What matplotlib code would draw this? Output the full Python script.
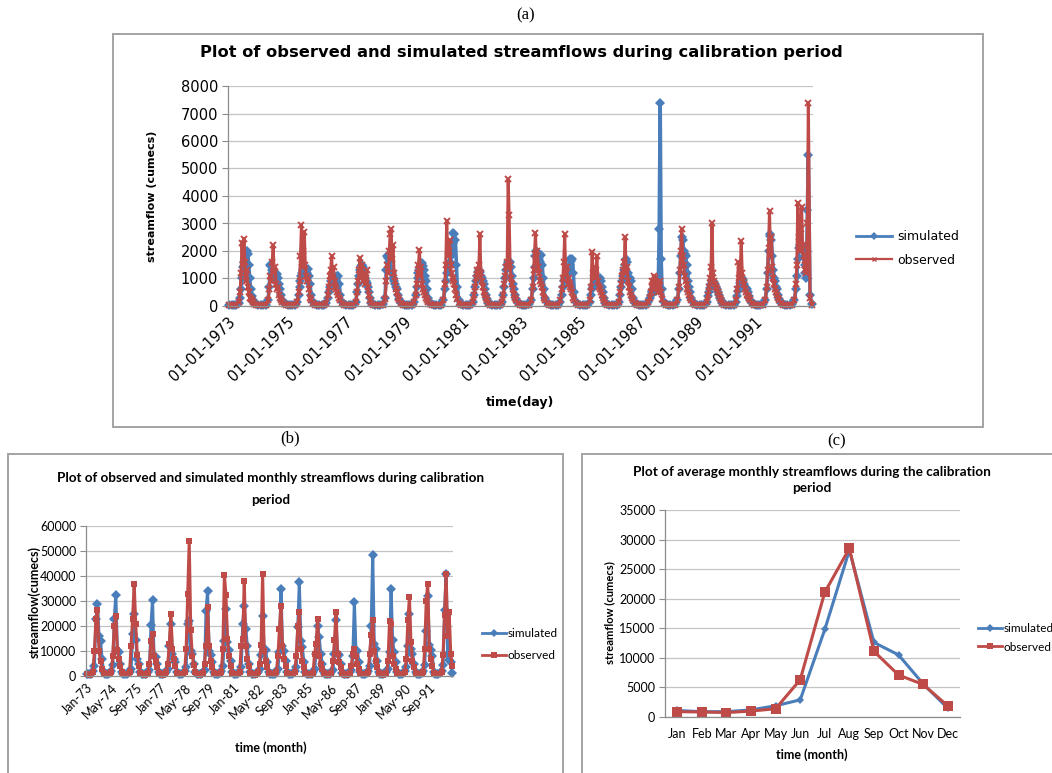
import numpy as np
import pandas as pd
import matplotlib
matplotlib.use('Agg')
import matplotlib.pyplot as plt
from matplotlib.lines import Line2D
from matplotlib.patches import Rectangle

W, H = 1052, 773
BLUE = '#4a7ebb'
RED = '#be4b48'
GRID = '#c4c4c4'
AXIS = '#8c8c8c'

# ---------------- (a) daily streamflow, sampled on these days of each year
sample_days = [15, 46, 74, 105, 135, 152, 164, 176, 188, 200, 212, 224, 236, 248,
               260, 272, 284, 296, 308, 329, 354]
years = list(range(1973, 1993))

daily_sim = [
    [40, 30, 30, 40, 120, 300, 600, 1000, 1400, 1600, 1800, 1950, 2000, 1900, 1500, 1000, 600, 350, 200, 100, 60],
    [40, 30, 30, 50, 200, 700, 1500, 1450, 1300, 1200, 1100, 1000, 1100, 1150, 1000, 800, 600, 400, 200, 100, 60],
    [40, 30, 30, 50, 150, 400, 700, 900, 1100, 1200, 1300, 1350, 1300, 1250, 1200, 1350, 1100, 800, 400, 150, 60],
    [40, 30, 30, 40, 120, 300, 500, 700, 900, 1000, 950, 900, 1000, 1050, 1000, 1100, 1100, 800, 400, 150, 60],
    [40, 30, 30, 50, 150, 500, 800, 1100, 1300, 1450, 1500, 1400, 1200, 1000, 900, 850, 700, 500, 300, 120, 60],
    [40, 30, 40, 60, 300, 1300, 1800, 1750, 1600, 1400, 1300, 1200, 1000, 900, 800, 700, 600, 400, 250, 120, 60],
    [40, 30, 30, 50, 150, 400, 700, 1000, 1200, 1300, 1400, 1500, 1550, 1450, 1300, 1100, 900, 600, 300, 120, 60],
    [40, 30, 30, 50, 200, 600, 900, 1200, 1400, 1500, 1600, 1800, 2000, 2300, 2650, 2600, 2400, 1500, 700, 200, 80],
    [40, 30, 30, 50, 150, 400, 700, 900, 1100, 1250, 1300, 1250, 1100, 1000, 900, 800, 600, 400, 250, 120, 60],
    [40, 30, 30, 50, 150, 400, 700, 1000, 1300, 1500, 1600, 1550, 1600, 1400, 1100, 800, 600, 400, 250, 120, 60],
    [40, 30, 30, 60, 200, 600, 1000, 1400, 1800, 2000, 1950, 1900, 1800, 1600, 1850, 1500, 1000, 600, 300, 150, 60],
    [40, 30, 30, 50, 150, 400, 700, 900, 1000, 1100, 1200, 1300, 1400, 1500, 1700, 1650, 1700, 1200, 500, 150, 60],
    [40, 30, 30, 50, 150, 400, 600, 700, 800, 850, 900, 950, 900, 950, 1000, 900, 700, 500, 300, 120, 60],
    [40, 30, 30, 50, 150, 400, 700, 900, 1100, 1300, 1500, 1700, 1600, 1200, 1000, 1000, 900, 600, 300, 120, 60],
    [40, 30, 30, 50, 150, 300, 400, 500, 550, 600, 650, 600, 550, 600, 700, 2800, 7400, 1700, 600, 150, 60],
    [40, 30, 30, 60, 200, 600, 1200, 1800, 2500, 2400, 2000, 1900, 1800, 1500, 1200, 900, 700, 500, 300, 150, 60],
    [40, 30, 30, 50, 150, 350, 500, 650, 800, 900, 900, 850, 800, 700, 600, 500, 400, 300, 200, 100, 60],
    [40, 30, 30, 50, 150, 350, 550, 700, 850, 950, 1000, 950, 800, 700, 650, 600, 500, 350, 200, 100, 60],
    [40, 30, 30, 60, 200, 600, 1200, 2000, 2600, 2550, 2400, 1800, 1300, 1000, 900, 700, 600, 400, 250, 120, 60],
    [40, 30, 30, 60, 200, 600, 1100, 1700, 2100, 2200, 2150, 2200, 2000, 1800, 1500, 1200, 1000, 3500, 5500, 400, 60],
]

daily_obs = [
    [30, 25, 20, 40, 150, 500, 1200, 2300, 1500, 2450, 1600, 900, 1300, 700, 500, 300, 250, 200, 150, 80, 50],
    [30, 25, 20, 40, 200, 600, 1100, 900, 1600, 2200, 1200, 1400, 800, 600, 700, 400, 300, 200, 150, 80, 50],
    [30, 25, 20, 40, 150, 500, 900, 1800, 2950, 1400, 2000, 2700, 1500, 1100, 900, 1000, 600, 300, 200, 100, 50],
    [30, 25, 20, 40, 120, 400, 700, 1100, 1300, 1800, 1000, 1400, 900, 700, 600, 500, 400, 300, 200, 100, 50],
    [30, 25, 20, 40, 150, 500, 900, 1300, 1750, 1100, 1500, 900, 1200, 800, 1000, 1300, 700, 400, 200, 100, 50],
    [30, 25, 20, 50, 250, 900, 1500, 1200, 2000, 2600, 2800, 1700, 2200, 1200, 900, 600, 500, 300, 200, 100, 50],
    [30, 25, 20, 40, 150, 400, 800, 1200, 1500, 2050, 1100, 1400, 800, 600, 500, 400, 300, 200, 150, 80, 50],
    [30, 25, 20, 40, 200, 800, 1500, 3100, 1800, 2000, 2400, 1500, 1200, 900, 1000, 800, 600, 400, 250, 100, 50],
    [30, 25, 20, 40, 150, 400, 700, 1000, 1300, 1100, 1500, 2600, 1200, 900, 700, 500, 400, 300, 200, 100, 50],
    [30, 25, 20, 40, 150, 400, 800, 1100, 1400, 1600, 4600, 3300, 1500, 1000, 800, 600, 400, 300, 200, 100, 50],
    [30, 25, 20, 50, 200, 700, 1300, 1900, 2650, 1600, 2000, 1400, 1200, 900, 800, 700, 500, 300, 200, 100, 50],
    [30, 25, 20, 40, 200, 600, 1000, 1600, 2600, 1200, 1400, 800, 1000, 700, 800, 600, 500, 300, 200, 100, 50],
    [30, 25, 20, 40, 200, 700, 1950, 1200, 1400, 1000, 1300, 1800, 900, 700, 600, 500, 400, 300, 200, 100, 50],
    [30, 25, 20, 40, 150, 500, 800, 1100, 1300, 1600, 2500, 1200, 1400, 900, 700, 500, 400, 300, 200, 100, 50],
    [30, 25, 20, 40, 150, 300, 500, 700, 900, 800, 1100, 1000, 700, 600, 500, 800, 900, 500, 250, 100, 50],
    [30, 25, 20, 50, 200, 700, 1300, 2000, 2800, 1800, 1500, 1100, 900, 800, 600, 500, 400, 300, 200, 100, 50],
    [30, 25, 20, 40, 150, 400, 700, 1000, 1400, 3000, 1200, 900, 800, 700, 600, 500, 400, 300, 200, 100, 50],
    [30, 25, 20, 40, 200, 600, 1600, 1000, 1300, 2350, 1200, 900, 800, 600, 500, 400, 350, 300, 200, 100, 50],
    [30, 25, 20, 50, 200, 700, 1300, 2100, 3450, 1800, 2500, 1400, 1000, 800, 600, 500, 400, 300, 200, 100, 50],
    [30, 25, 20, 50, 200, 800, 1500, 3750, 2500, 2000, 2800, 3600, 2200, 1800, 1500, 1300, 1200, 3000, 7400, 300, 50],
]

daily_ticks = ['01-01-1973', '01-01-1975', '01-01-1977', '01-01-1979', '01-01-1981',
               '01-01-1983', '01-01-1985', '01-01-1987', '01-01-1989', '01-01-1991']

# ---------------- (b) monthly streamflow, Jan..Dec for each year
monthly_sim = [
    [1000, 800, 800, 1000, 2000, 4000, 23000, 29000, 16000, 14000, 7000, 1500],
    [1000, 900, 800, 1100, 2000, 4500, 23000, 32500, 10500, 9500, 5000, 1500],
    [1000, 900, 900, 1200, 1800, 3000, 17000, 25000, 14500, 7000, 5000, 1500],
    [900, 800, 800, 1000, 1500, 2500, 20500, 30500, 8000, 7500, 5000, 1500],
    [1000, 900, 900, 1100, 1800, 3000, 12000, 21000, 9000, 7000, 5500, 1500],
    [1000, 900, 800, 1100, 2000, 3500, 21000, 22000, 10000, 9000, 5000, 1500],
    [900, 800, 800, 1000, 1500, 2500, 26000, 34000, 10000, 8500, 5500, 1500],
    [1000, 900, 900, 1200, 2000, 4000, 14000, 27000, 13500, 10500, 6000, 1600],
    [1000, 900, 900, 1200, 1800, 3500, 21000, 28000, 19000, 12000, 5000, 1500],
    [1000, 900, 800, 1100, 1800, 3000, 8500, 24000, 11000, 10500, 5500, 1500],
    [900, 800, 800, 1000, 1600, 3000, 9500, 35000, 12000, 10000, 6000, 1600],
    [1000, 900, 900, 1200, 2000, 3500, 19500, 37500, 14000, 11500, 5500, 1500],
    [900, 800, 800, 1000, 1500, 3000, 9000, 20000, 15500, 9000, 5000, 1500],
    [900, 800, 800, 1000, 1500, 2500, 9000, 22500, 9000, 8500, 5000, 1400],
    [900, 800, 800, 1000, 1500, 2500, 8000, 29500, 10500, 10000, 5500, 1500],
    [1000, 900, 900, 1200, 2000, 4000, 20000, 48500, 13000, 11000, 6000, 1600],
    [1000, 900, 900, 1100, 1800, 3000, 9500, 35000, 14500, 9500, 5500, 1500],
    [1000, 900, 900, 1200, 2000, 3500, 12000, 25000, 11000, 9000, 5000, 1500],
    [1000, 900, 900, 1200, 2000, 4500, 18000, 32000, 12500, 10500, 8000, 1800],
    [1000, 900, 900, 1200, 2000, 4500, 26500, 41000, 9000, 6500, 5500, 1200],
]

monthly_obs = [
    [800, 700, 600, 800, 1500, 10000, 23000, 26500, 10000, 6000, 3000, 1200],
    [900, 700, 700, 900, 1500, 8000, 20000, 24000, 10500, 7000, 4000, 1500],
    [800, 700, 700, 900, 1500, 12000, 23000, 37000, 21000, 8500, 4000, 1300],
    [800, 700, 600, 800, 1300, 5000, 14000, 17000, 8000, 6000, 3500, 1200],
    [800, 700, 600, 800, 1500, 5000, 13000, 25000, 11000, 7000, 4000, 1300],
    [900, 700, 700, 900, 1500, 11000, 33000, 54000, 18500, 8000, 4500, 1500],
    [800, 700, 600, 800, 1300, 5000, 12000, 27500, 12000, 6000, 3500, 1200],
    [900, 700, 700, 900, 1500, 11000, 40500, 32500, 15000, 8000, 4000, 1400],
    [800, 700, 700, 900, 1500, 12000, 15000, 38000, 12000, 7000, 4000, 1300],
    [800, 700, 600, 800, 1500, 5000, 12500, 41000, 10000, 6000, 3500, 1200],
    [800, 700, 700, 900, 1500, 8000, 19000, 28000, 12000, 7000, 4000, 1300],
    [800, 700, 700, 900, 1500, 8000, 20000, 25500, 11000, 6000, 3500, 1200],
    [800, 700, 600, 800, 1300, 9000, 13000, 23000, 8000, 5000, 3000, 1100],
    [800, 700, 600, 800, 1300, 6000, 14500, 25500, 9000, 5500, 3500, 1200],
    [700, 600, 600, 700, 1200, 4000, 9000, 11000, 8000, 5000, 3000, 1000],
    [800, 700, 700, 900, 1500, 9000, 16500, 22500, 10000, 6000, 3500, 1200],
    [800, 700, 600, 800, 1300, 6000, 22000, 21000, 8000, 5000, 3000, 1100],
    [800, 700, 700, 900, 1500, 7000, 22500, 31500, 13500, 6000, 3500, 1200],
    [900, 700, 700, 900, 1600, 11000, 30000, 37000, 11000, 7000, 4000, 1300],
    [900, 800, 700, 900, 1500, 8500, 24500, 41000, 16000, 25500, 9000, 4000],
]

monthly_ticks = ['Jan-73', 'May-74', 'Sep-75', 'Jan-77', 'May-78', 'Sep-79', 'Jan-81',
                 'May-82', 'Sep-83', 'Jan-85', 'May-86', 'Sep-87', 'Jan-89', 'May-90', 'Sep-91']

# ---------------- (c) average monthly streamflow
months = ['Jan', 'Feb', 'Mar', 'Apr', 'May', 'Jun', 'Jul', 'Aug', 'Sep', 'Oct', 'Nov', 'Dec']
avg_sim = [1100, 900, 900, 1200, 1900, 2900, 14800, 28200, 12600, 10500, 5600, 1500]
avg_obs = [900, 850, 750, 1000, 1400, 6300, 21100, 28500, 11100, 7100, 5500, 1900]


def fx(x):
    return x / W


def fy(y):
    return 1 - y / H


def add_axes_px(left, top, right, bottom):
    return fig.add_axes([fx(left), fy(bottom), (right - left) / W, (bottom - top) / H])


def excel_style(ax, ymax, ystep, size, family):
    ax.set_ylim(0, ymax)
    ax.set_yticks(np.arange(0, ymax + 1, ystep))
    ax.grid(axis='y', color=GRID, lw=0.9)
    ax.set_axisbelow(True)
    for s in ['top', 'right']:
        ax.spines[s].set_visible(False)
    for s in ['left', 'bottom']:
        ax.spines[s].set_color(AXIS)
        ax.spines[s].set_linewidth(0.9)
    ax.tick_params(axis='y', length=4, color=AXIS, labelsize=size, pad=3)
    ax.tick_params(axis='x', length=0, labelsize=size)
    for lab in ax.get_yticklabels() + ax.get_xticklabels():
        lab.set_family(family)


fig = plt.figure(figsize=(W / 100, H / 100), dpi=100)

# panel frames
for (l, t, r, b) in [(113, 34, 983, 427), (8, 454, 563, 790), (582, 454, 1070, 790)]:
    fig.add_artist(Rectangle((fx(l), fy(b)), (r - l) / W, (b - t) / H, transform=fig.transFigure,
                             fill=False, ec='#a3a3a3', lw=1.4))

serif = ['Liberation Serif', 'DejaVu Serif']
fig.text(fx(526), fy(15), '(a)', family=serif, fontsize=12, ha='center', va='center')
fig.text(fx(290), fy(438), '(b)', family=serif, fontsize=12, ha='center', va='center')
fig.text(fx(837), fy(441), '(c)', family=serif, fontsize=12, ha='center', va='center')

# ---------------- (a)
sans = ['DejaVu Sans']
ax = add_axes_px(228, 86, 813, 306)
dates = [pd.Timestamp(y, 1, 1) + pd.Timedelta(days=d - 1) for y in years for d in sample_days]
sim_flat = [v for row in daily_sim for v in row]
obs_flat = [v for row in daily_obs for v in row]
ax.plot(dates, sim_flat, color=BLUE, lw=2.6, marker='D', ms=5, mew=0, clip_on=False)
ax.plot(dates, obs_flat, color=RED, lw=2.2, marker='x', ms=4.5, mew=1.4, clip_on=False)
ax.set_xlim(pd.Timestamp(1973, 1, 1), pd.Timestamp(1992, 12, 31))
tick_dates = pd.to_datetime(daily_ticks, format='%d-%m-%Y')
ax.set_xticks(tick_dates)
ax.set_xticklabels(daily_ticks, rotation=44, ha='right', rotation_mode='anchor')
excel_style(ax, 8000, 1000, 10.5, sans)
ax.tick_params(axis='x', labelsize=10.5, pad=6)
fig.text(fx(521), fy(52), 'Plot of observed and simulated streamflows during calibration period',
         fontsize=11.7, weight='bold', ha='center', va='center')
fig.text(fx(152), fy(196), 'streamflow (cumecs)', rotation=90, fontsize=8, weight='bold',
         ha='center', va='center')
fig.text(fx(520), fy(402), 'time(day)', fontsize=9, weight='bold', ha='center', va='center')
handles = [Line2D([], [], color=BLUE, lw=2, marker='D', ms=4, mew=0),
           Line2D([], [], color=RED, lw=1.6, marker='x', ms=3.5, mew=1)]
ax.legend(handles, ['simulated', 'observed'], loc='center left',
          bbox_to_anchor=(fx(856), fy(248.5)), bbox_transform=fig.transFigure,
          frameon=False, fontsize=9, handlelength=2.9, handletextpad=0.4,
          labelspacing=0.8, borderpad=0, borderaxespad=0)

# ---------------- (b)
lato = ['Lato', 'DejaVu Sans']
ax = add_axes_px(86, 526, 453, 676)
msim = [v for row in monthly_sim for v in row]
mobs = [v for row in monthly_obs for v in row]
idx = np.arange(len(msim))
ax.plot(idx, msim, color=BLUE, lw=2.2, marker='D', ms=5, mew=0, clip_on=False)
ax.plot(idx, mobs, color=RED, lw=2.2, marker='s', ms=4.5, mew=0, clip_on=False)
ax.set_xlim(-0.5, len(msim) - 0.5)
ax.set_xticks(np.arange(0, 16 * len(monthly_ticks), 16))
ax.set_xticklabels(monthly_ticks, rotation=45, ha='right', rotation_mode='anchor')
excel_style(ax, 60000, 10000, 9, lato)
ax.tick_params(axis='x', pad=4)
fig.text(fx(271), fy(478), 'Plot of observed and simulated monthly streamflows during calibration',
         family=lato, fontsize=9.7, weight='bold', ha='center', va='center')
fig.text(fx(271), fy(500), 'period', family=lato, fontsize=9.7, weight='bold', ha='center', va='center')
fig.text(fx(34), fy(602), 'streamflow(cumecs)', family=lato, rotation=90, fontsize=9,
         weight='bold', ha='center', va='center')
fig.text(fx(271), fy(748), 'time (month)', family=lato, fontsize=9, weight='bold',
         ha='center', va='center')
handles = [Line2D([], [], color=BLUE, lw=2, marker='D', ms=4, mew=0),
           Line2D([], [], color=RED, lw=2, marker='s', ms=4, mew=0)]
ax.legend(handles, ['simulated', 'observed'], loc='center left',
          bbox_to_anchor=(fx(482), fy(644.5)), bbox_transform=fig.transFigure,
          frameon=False, prop={'family': lato, 'size': 8.5}, handlelength=2.0,
          handletextpad=0.15, labelspacing=0.9, borderpad=0, borderaxespad=0)

# ---------------- (c)
ax = add_axes_px(665, 510, 960, 717)
pos = np.arange(len(months))
ax.plot(pos, avg_sim, color=BLUE, lw=2.2, marker='D', ms=4.5, mew=0, clip_on=False)
ax.plot(pos, avg_obs, color=RED, lw=2.2, marker='s', ms=6.5, mew=0, clip_on=False)
ax.set_xlim(-0.5, len(months) - 0.5)
ax.set_xticks(pos)
ax.set_xticklabels(months)
excel_style(ax, 35000, 5000, 9, lato)
ax.tick_params(axis='x', pad=8)
fig.text(fx(812), fy(472), 'Plot of average monthly streamflows during the calibration',
         family=lato, fontsize=9.8, weight='bold', ha='center', va='center')
fig.text(fx(812), fy(488), 'period', family=lato, fontsize=9.8, weight='bold', ha='center', va='center')
fig.text(fx(610), fy(613), 'streamflow (cumecs)', family=lato, rotation=90, fontsize=8,
         weight='bold', ha='center', va='center')
fig.text(fx(812), fy(755), 'time (month)', family=lato, fontsize=9, weight='bold',
         ha='center', va='center')
handles = [Line2D([], [], color=BLUE, lw=2, marker='D', ms=4, mew=0),
           Line2D([], [], color=RED, lw=2, marker='s', ms=5, mew=0)]
ax.legend(handles, ['simulated', 'observed'], loc='center left',
          bbox_to_anchor=(fx(978), fy(638)), bbox_transform=fig.transFigure,
          frameon=False, prop={'family': lato, 'size': 8.5}, handlelength=2.0,
          handletextpad=0.15, labelspacing=0.6, borderpad=0, borderaxespad=0)

fig.savefig('out.png', dpi=100)
